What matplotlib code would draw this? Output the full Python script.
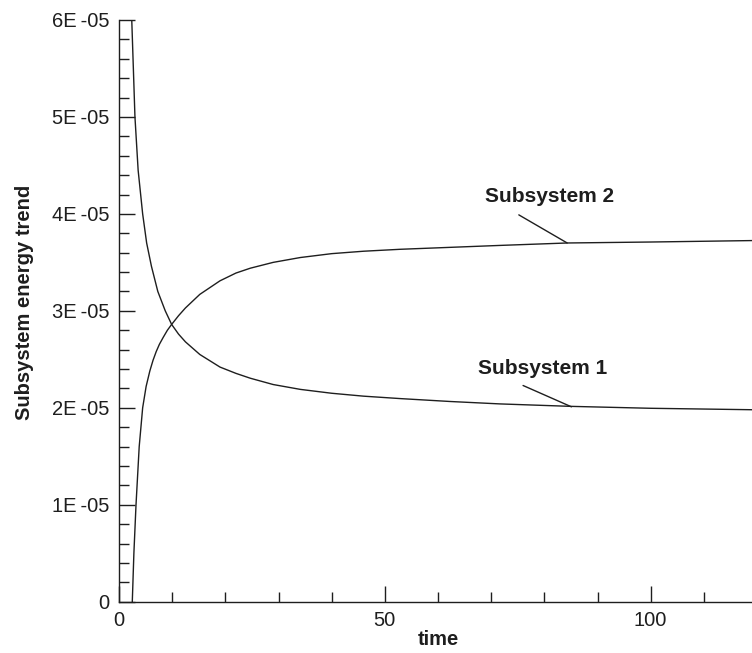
import matplotlib
matplotlib.use("Agg")
import matplotlib.pyplot as plt
from matplotlib.ticker import MultipleLocator, FuncFormatter

plt.rcParams["font.family"] = ["Liberation Sans", "DejaVu Sans"]

# (time, energy)
t1 = [2.4, 2.7, 3.0, 3.6, 4.45, 5.2, 6.1, 7.3, 8.7, 9.9, 11.2, 12.5, 15.2,
      19, 22, 24.7, 29, 34.1, 40, 46, 52.9, 62.3, 71.7, 84.9, 100, 119.2]
e1 = [6.0e-5, 5.5e-5, 5.0e-5, 4.45e-5, 4.0e-5, 3.7e-5, 3.46e-5, 3.2e-5,
      3.0e-5, 2.86e-5, 2.76e-5, 2.68e-5, 2.55e-5, 2.42e-5, 2.355e-5,
      2.305e-5, 2.24e-5, 2.19e-5, 2.15e-5, 2.12e-5, 2.095e-5, 2.065e-5,
      2.04e-5, 2.015e-5, 1.995e-5, 1.98e-5]

t2 = [2.5, 2.8, 3.2, 3.8, 4.45, 5.1, 5.8, 6.4, 7.0, 7.6, 8.3, 9.1, 9.9,
      11.2, 12.5, 15.2, 19, 22, 24.7, 29, 34.1, 40, 46, 52.9, 62.3, 71.7,
      84.3, 100, 119.2]
e2 = [0.0, 0.5e-5, 1.0e-5, 1.6e-5, 2.0e-5, 2.22e-5, 2.38e-5, 2.49e-5,
      2.58e-5, 2.655e-5, 2.725e-5, 2.8e-5, 2.86e-5, 2.95e-5, 3.03e-5,
      3.17e-5, 3.31e-5, 3.39e-5, 3.44e-5, 3.5e-5, 3.55e-5, 3.59e-5,
      3.615e-5, 3.635e-5, 3.655e-5, 3.675e-5, 3.70e-5, 3.71e-5, 3.725e-5]

labels = ["Subsystem 1", "Subsystem 2"]
label_pos = [(79.7, 2.41e-5), (80.9, 4.18e-5)]
leader_from = [(76.0, 2.23e-5), (75.2, 3.99e-5)]
leader_to = [(85.1, 2.01e-5), (84.3, 3.70e-5)]

ink = "#1e1e1e"

fig = plt.figure(figsize=(7.52, 6.53), dpi=100)
ax = fig.add_axes([119 / 752, 1 - 601.7 / 653, 638 / 752, 581.7 / 653])

ax.plot(t1, e1, color=ink, lw=1.0)
ax.plot(t2, e2, color=ink, lw=1.0)

for lab, (tx, ty), p0, p1 in zip(labels, label_pos, leader_from, leader_to):
    ax.text(tx, ty, lab, ha="center", va="center", fontsize=15,
            fontweight="bold", color=ink)
    ax.annotate("", xy=p1, xytext=p0,
                arrowprops=dict(arrowstyle="-", color=ink, lw=1,
                                shrinkA=0, shrinkB=0))

ax.set_xlim(0, 120)
ax.set_ylim(0, 6e-5)
ax.xaxis.set_major_locator(MultipleLocator(50))
ax.xaxis.set_minor_locator(MultipleLocator(10))
ax.yaxis.set_major_locator(MultipleLocator(1e-5))
ax.yaxis.set_minor_locator(MultipleLocator(2e-6))


def sci(v, pos):
    if abs(v) < 1e-12:
        return "0"
    s = f"{v:.0E}"
    return s.replace("E", "E\u2009")


ax.yaxis.set_major_formatter(FuncFormatter(sci))

for s in ["top", "right"]:
    ax.spines[s].set_visible(False)
for s in ["left", "bottom"]:
    ax.spines[s].set_color(ink)
    ax.spines[s].set_linewidth(1)

ax.tick_params(which="both", direction="in", colors=ink, width=1,
               labelsize=14.5, top=False, right=False)
ax.tick_params(which="major", length=11.5, pad=7)
ax.tick_params(which="minor", length=7)

ax.set_xlabel("time", fontsize=14.5, fontweight="bold", color=ink, labelpad=0)
ax.set_ylabel("Subsystem energy trend", fontsize=14.5, fontweight="bold",
              color=ink)
ax.yaxis.set_label_coords(-0.133, 0.515)

fig.savefig("out.png", dpi=100)
